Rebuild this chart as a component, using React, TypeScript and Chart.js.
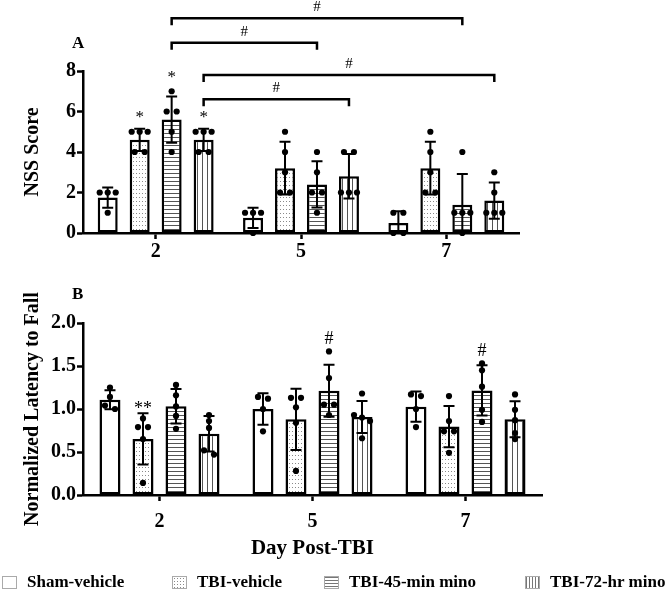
import React, { useEffect, useRef } from "react";
import { Chart, registerables } from "chart.js";
Chart.register(...registerables);

const FONT = "'Liberation Serif', 'Times New Roman', serif";

const days = ["2", "5", "7"];
const groups = ["Sham-vehicle", "TBI-vehicle", "TBI-45-min mino", "TBI-72-hr mino"];

// Panel A – NSS score, individual animals [day][animal]
const nssSham = [[2, 2, 2, 1], [1, 1, 1, 0], [1, 1, 0, 0]];
const nssTbiVehicle = [[5, 5, 5, 4, 4], [5, 4, 3, 2, 2], [5, 4, 3, 2, 2]];
const nssTbi45 = [[7, 6, 6, 5, 4], [4, 3, 2, 2, 1], [4, 1, 1, 1, 0]];
const nssTbi72 = [[5, 5, 5, 4, 4], [4, 4, 2, 2, 2], [3, 2, 1, 1, 1]];

// Panel B – normalized latency to fall, individual animals [day][animal]
const latSham = [[1.25, 1.14, 1.04, 1.0], [1.14, 1.12, 1.0, 0.74], [1.17, 1.15, 1.0, 0.79]];
const latTbiVehicle = [[0.89, 0.79, 0.79, 0.65, 0.14], [1.13, 1.13, 1.02, 0.84, 0.28], [1.15, 0.86, 0.74, 0.74, 0.49]];
const latTbi45 = [[1.28, 1.16, 1.03, 0.92, 0.77], [1.67, 1.36, 1.05, 1.05, 0.93], [1.53, 1.45, 1.26, 0.99, 0.85]];
const latTbi72 = [[0.93, 0.86, 0.78, 0.52, 0.47], [1.18, 0.93, 0.9, 0.86, 0.66], [1.17, 0.99, 0.87, 0.72, 0.65]];

// Significance annotations: [day index, group index]
const nssMarks = [
  { day: 0, group: 1, text: "*" },
  { day: 0, group: 2, text: "*" },
  { day: 0, group: 3, text: "*" },
];
const nssBrackets = [
  { from: [0, 2], to: [2, 2], level: 10.6, text: "#" },
  { from: [0, 2], to: [1, 2], level: 9.4, text: "#" },
  { from: [0, 3], to: [2, 3], level: 7.8, text: "#" },
  { from: [0, 3], to: [1, 3], level: 6.6, text: "#" },
];
const latMarks = [
  { day: 0, group: 1, text: "**" },
  { day: 1, group: 2, text: "#" },
  { day: 2, group: 2, text: "#" },
];
const latBrackets: any[] = [];

const nssTicks = [0, 2, 4, 6, 8];
const latTicks = [0, 0.5, 1.0, 1.5, 2.0];

function mean(a: number[]) {
  return a.reduce((s, v) => s + v, 0) / a.length;
}
function sd(a: number[]) {
  const m = mean(a);
  return Math.sqrt(a.reduce((s, v) => s + (v - m) * (v - m), 0) / (a.length - 1));
}

function makePattern(kind: string): any {
  if (kind === "none") return "#ffffff";
  const c = document.createElement("canvas");
  const g = c.getContext("2d")!;
  if (kind === "dots") {
    c.width = 3; c.height = 4;
    g.fillStyle = "#fff"; g.fillRect(0, 0, 3, 4);
    g.fillStyle = "#8a8a8a"; g.fillRect(1, 1, 1, 1);
  } else if (kind === "h") {
    c.width = 4; c.height = 4;
    g.fillStyle = "#fff"; g.fillRect(0, 0, 4, 4);
    g.fillStyle = "#555"; g.fillRect(0, 1, 4, 1);
  } else {
    c.width = 5; c.height = 5;
    g.fillStyle = "#fff"; g.fillRect(0, 0, 5, 5);
    g.fillStyle = "#555"; g.fillRect(2, 0, 1, 5);
  }
  return g.createPattern(c, "repeat");
}

function overlayPlugin(p: any) {
  return {
    id: "overlay",
    afterDatasetsDraw(chart: any) {
      const ctx = chart.ctx;
      const ys = chart.scales.y;
      const area = chart.chartArea;
      const barX = (d: number, g: number) => chart.getDatasetMeta(g).data[d].x;
      p.points.forEach((series: number[][], gi: number) => {
        series.forEach((vals: number[], di: number) => {
          const x = barX(di, gi);
          const m = mean(vals);
          const s = sd(vals);
          // error bar
          ctx.save();
          ctx.beginPath();
          ctx.rect(0, 0, chart.width, area.bottom);
          ctx.clip();
          ctx.strokeStyle = "#000";
          ctx.lineWidth = 2;
          const yt = ys.getPixelForValue(m + s);
          const yb = ys.getPixelForValue(m - s);
          ctx.beginPath();
          ctx.moveTo(x, yt); ctx.lineTo(x, yb);
          ctx.moveTo(x - 5.5, yt); ctx.lineTo(x + 5.5, yt);
          ctx.moveTo(x - 5.5, yb); ctx.lineTo(x + 5.5, yb);
          ctx.stroke();
          ctx.restore();
          // dots
          const pts = vals.map((v) => ys.getPixelForValue(v)).sort((a, b) => a - b);
          const clusters: number[][] = [];
          pts.forEach((py) => {
            const last = clusters[clusters.length - 1];
            if (last && py - last[last.length - 1] < 5) last.push(py);
            else clusters.push([py]);
          });
          ctx.fillStyle = "#000";
          clusters.forEach((cl) => {
            const n = cl.length;
            const step = n === 2 ? 10 : 8;
            cl.forEach((py, k) => {
              const dx = (k - (n - 1) / 2) * step;
              ctx.beginPath();
              ctx.arc(x + dx, py, 3.1, 0, Math.PI * 2);
              ctx.fill();
            });
          });
        });
      });
      // marks above bars
      ctx.fillStyle = "#000";
      ctx.textAlign = "center";
      p.marks.forEach((mk: any) => {
        const vals = p.points[mk.group][mk.day];
        const top = ys.getPixelForValue(Math.max(...vals));
        ctx.font = p.markFont;
        const tm = ctx.measureText(mk.text);
        const cy = top - p.markGap;
        ctx.textBaseline = "alphabetic";
        const base = cy + (tm.actualBoundingBoxAscent - tm.actualBoundingBoxDescent) / 2;
        ctx.fillText(mk.text, barX(mk.day, mk.group), base);
      });
      // brackets
      p.brackets.forEach((br: any) => {
        const x1 = barX(br.from[0], br.from[1]);
        const x2 = barX(br.to[0], br.to[1]);
        const yb = ys.getPixelForValue(br.level);
        ctx.strokeStyle = "#000";
        ctx.lineWidth = 2.5;
        ctx.beginPath();
        ctx.moveTo(x1, yb + 7); ctx.lineTo(x1, yb); ctx.lineTo(x2, yb); ctx.lineTo(x2, yb + 7);
        ctx.stroke();
        ctx.font = "15px " + FONT;
        ctx.textBaseline = "alphabetic";
        ctx.fillText(br.text, (x1 + x2) / 2, yb - 7);
      });
      // panel letter
      ctx.font = "bold 17px " + FONT;
      ctx.textAlign = "left";
      ctx.textBaseline = "alphabetic";
      ctx.fillText(p.letter, p.letterX, p.letterY);
    },
  };
}

function buildConfig(p: any, fills: any[]) {
  const tickFont = { family: FONT, size: 20, weight: "bold" as const };
  return {
    type: "bar" as const,
    data: {
      labels: days,
      datasets: groups.map((g, gi) => ({
        label: g,
        data: p.points[gi].map(mean),
        backgroundColor: fills[gi],
        borderColor: "#000",
        borderWidth: 2.5,
        borderSkipped: false,
        categoryPercentage: p.catPct,
        barPercentage: p.barPct,
      })),
    },
    options: {
      responsive: false,
      animation: false,
      events: [],
      layout: { padding: p.padding },
      plugins: { legend: { display: false }, tooltip: { enabled: false } },
      scales: {
        x: {
          type: "category",
          offset: true,
          grid: { display: true, offset: false, drawOnChartArea: false, drawTicks: true, tickLength: 6, tickWidth: 2.5, tickColor: "#000" },
          border: { display: true, color: "#000", width: 2.5 },
          ticks: { color: "#000", font: tickFont, padding: p.xTickPad, autoSkip: false, maxRotation: 0 },
          title: p.xTitle
            ? { display: true, text: p.xTitle, color: "#000", font: { family: FONT, size: 21, weight: "bold" }, padding: { top: 0, bottom: p.xTitlePad } }
            : { display: false },
          afterFit: (s: any) => { s.height = p.xHeight; },
        },
        y: {
          min: 0,
          max: p.ticks[p.ticks.length - 1],
          afterBuildTicks: (s: any) => { s.ticks = p.ticks.map((v: number) => ({ value: v })); },
          grid: { display: true, drawOnChartArea: false, drawTicks: true, tickLength: 6, tickWidth: 2.5, tickColor: "#000" },
          border: { display: true, color: "#000", width: 2.5 },
          ticks: { color: "#000", font: tickFont, padding: 1, callback: p.tickFmt },
          title: { display: true, text: p.yTitle, color: "#000", font: { family: FONT, size: 20, weight: "bold" }, padding: { top: 21, bottom: 0 } },
          afterFit: (s: any) => { s.width = 83; },
        },
      },
    },
    plugins: [overlayPlugin(p)],
  };
}

const legendFills = [
  { background: "#fff" },
  { backgroundImage: "radial-gradient(circle, #8a8a8a 0.6px, transparent 0.9px)", backgroundSize: "3px 3px", backgroundColor: "#fff" },
  { backgroundImage: "repeating-linear-gradient(to bottom, #777 0px, #777 1px, #fff 1px, #fff 3px)" },
  { backgroundImage: "repeating-linear-gradient(to right, #777 0px, #777 1px, #fff 1px, #fff 3px)" },
];
const legendLeft = [2, 172, 324, 525];

export default function App() {
  const refA = useRef<HTMLCanvasElement>(null);
  const refB = useRef<HTMLCanvasElement>(null);
  useEffect(() => {
    const fills = [makePattern("none"), makePattern("dots"), makePattern("h"), makePattern("v")];
    const a = new Chart(
      refA.current!,
      buildConfig(
        {
          points: [nssSham, nssTbiVehicle, nssTbi45, nssTbi72],
          ticks: nssTicks,
          tickFmt: (v: any) => String(v),
          yTitle: "NSS Score",
          padding: { left: 0, right: 147, top: 71, bottom: 0 },
          xHeight: 29,
          xTickPad: 1,
          catPct: 0.88,
          barPct: 0.625,
          marks: nssMarks,
          brackets: nssBrackets,
          markFont: "17px " + FONT,
          markGap: 17,
          letter: "A",
          letterX: 72,
          letterY: 48,
        },
        fills
      ) as any
    );
    const b = new Chart(
      refB.current!,
      buildConfig(
        {
          points: [latSham, latTbiVehicle, latTbi45, latTbi72],
          ticks: latTicks,
          tickFmt: (v: any) => Number(v).toFixed(1),
          yTitle: "Normalized Latency to Fall",
          xTitle: "Day Post-TBI",
          xTitlePad: 28,
          padding: { left: 0, right: 124, top: 61, bottom: 0 },
          xHeight: 94,
          xTickPad: 9,
          catPct: 0.863,
          barPct: 0.636,
          marks: latMarks,
          brackets: latBrackets,
          markFont: "18px " + FONT,
          markGap: 14,
          letter: "B",
          letterX: 72,
          letterY: 37,
        },
        fills
      ) as any
    );
    return () => {
      a.destroy();
      b.destroy();
    };
  }, []);

  return (
    <div style={{ position: "fixed", left: 0, top: 0, width: 666, height: 589, background: "#fff", overflow: "hidden" }}>
      <canvas ref={refA} width={666} height={262} style={{ position: "absolute", left: 0, top: 0 }} />
      <canvas ref={refB} width={666} height={327} style={{ position: "absolute", left: 0, top: 262 }} />
      {groups.map((g, i) => (
        <div
          key={g}
          style={{
            position: "absolute",
            left: legendLeft[i],
            top: 574,
            height: 16,
            display: "flex",
            alignItems: "center",
            fontFamily: FONT,
            fontWeight: "bold",
            fontSize: 17,
            lineHeight: "16px",
            whiteSpace: "nowrap",
            color: "#000",
          }}
        >
          <span style={{ display: "inline-block", width: 13, height: 11, border: "1px solid #aaa", marginRight: 10, ...legendFills[i] }} />
          <span>{g}</span>
        </div>
      ))}
    </div>
  );
}
